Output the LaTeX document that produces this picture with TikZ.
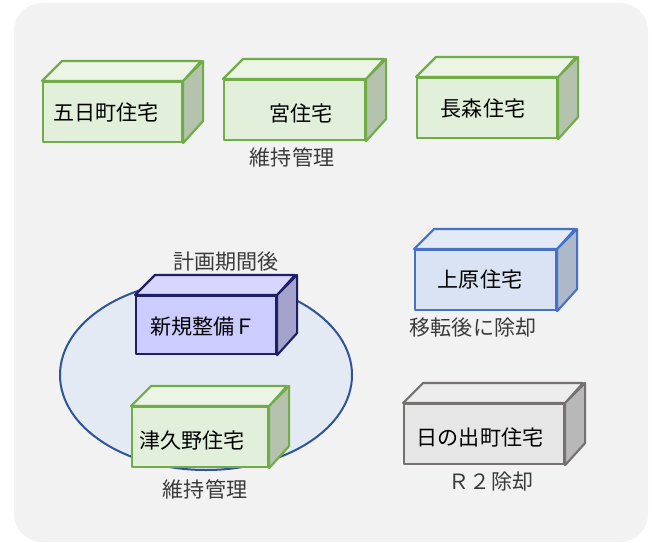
\documentclass[tikz,border=0pt]{standalone}
\usepackage{fontspec}
\usetikzlibrary{shapes.geometric}
\setmainfont{Noto Sans CJK JP}
\definecolor{bgc}{HTML}{F2F2F2}
\definecolor{gline}{HTML}{70AD47}
\definecolor{gfront}{HTML}{E2EFDA}
\definecolor{gtop}{HTML}{EBF4E5}
\definecolor{gside}{HTML}{B5C2AE}
\definecolor{bline}{HTML}{4472C4}
\definecolor{bfront}{HTML}{DAE3F3}
\definecolor{btop}{HTML}{E3EAF6}
\definecolor{bside}{HTML}{ADB8CA}
\definecolor{nline}{HTML}{1F1F66}
\definecolor{nfront}{HTML}{CCCCFF}
\definecolor{ntop}{HTML}{D6D6FF}
\definecolor{nside}{HTML}{A3A3CC}
\definecolor{kline}{HTML}{767171}
\definecolor{kfront}{HTML}{E7E6E6}
\definecolor{ktop}{HTML}{EDEDED}
\definecolor{kside}{HTML}{B9B8B8}
\definecolor{eline}{HTML}{2F5597}
\definecolor{efill}{HTML}{E3EAF4}
\definecolor{labc}{HTML}{3A3A3A}
\newcommand\mycub[9]{%
  % #1 name, #2 x, #3 y, #4 w, #5 h, #6 colour prefix, #7 text, #8 text x, #9 text y
  \node[cubefront, draw=#6line, fill=#6front, minimum width=#4*0.75pt, minimum height=#5*0.75pt, anchor=north west] (#1) at (#2,#3) {};
  \filldraw[cubeedge, draw=#6line, fill=#6top] (#1.north west) -- ++(20,-20) -- ++(#4,0) -- (#1.north east) -- cycle;
  \filldraw[cubeedge, draw=#6line, fill=#6side] (#1.north east) -- ++(20,-20) -- ++(0,#5) -- (#1.south east) -- cycle;
  \node[boxtext] (#1-t) at (#8,#9) {#7};
}
\begin{document}
\begin{tikzpicture}[x=0.75pt,y=-0.75pt,
  cubefront/.style={rectangle, line width=1.6pt, inner sep=0pt, line join=round},
  cubeedge/.style={line width=1.6pt, line join=round},
  boxtext/.style={font=\fontsize{15.8pt}{18pt}\selectfont, text=black, inner sep=0pt},
  lab/.style={font=\fontsize{15.8pt}{18pt}\selectfont, text=labc, inner sep=0pt}]
\useasboundingbox (0,0) rectangle (652,542);
\fill[white] (0,0) rectangle (652,542);
\fill[bgc, rounded corners=21pt] (14,3) rectangle (648,542);
% ellipse
\node[ellipse, draw=eline, fill=efill, line width=1.5pt, minimum width=292*0.75pt, minimum height=190*0.75pt, inner sep=0pt] (ell) at (206,375) {};
% boxes
\mycub{itsuka}{42}{81}{139}{60}{g}{五日町住宅}{106}{112}
\mycub{miya}{223}{79}{141}{60}{g}{宮住宅}{301}{113}
\mycub{nagamori}{416}{77}{140}{60}{g}{長森住宅}{483}{109}
\mycub{uehara}{414}{249}{141}{60}{b}{上原住宅}{480}{279}
\mycub{hinode}{403}{403}{160}{60}{k}{日の出町住宅}{480}{437}
\mycub{shinki}{135}{295}{140}{58}{n}{新規整備Ｆ}{203}{327}
\mycub{tsukuno}{131}{406}{136}{60}{g}{津久野住宅}{192}{440}
% labels
\node[lab] (l1) at (292,157) {維持管理};
\node[lab] (l2) at (226,262) {計画期間後};
\node[lab] (l3) at (473,328) {移転後に除却};
\node[lab] (l4) at (491,481) {Ｒ２除却};
\node[lab] (l5) at (205,489) {維持管理};
\end{tikzpicture}
\end{document}
